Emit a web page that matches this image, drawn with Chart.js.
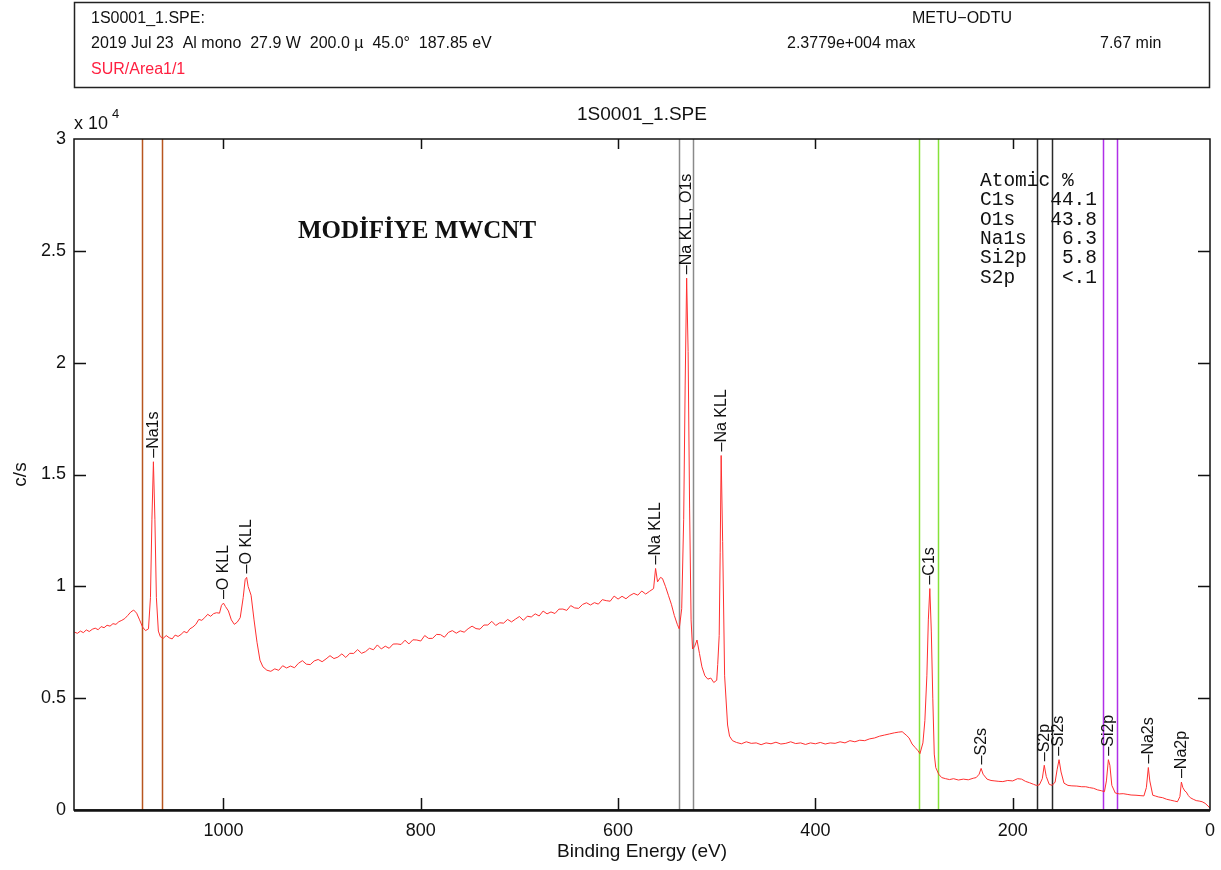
<!DOCTYPE html>
<html>
<head>
<meta charset="utf-8">
<script src="https://cdn.jsdelivr.net/npm/chart.js@4.4.1/dist/chart.umd.min.js"></script>
<style>
  body { margin: 0; background: #fff; }
  canvas { display: block; }
</style>
</head>
<body>
<canvas id="xps" width="1221" height="870"></canvas>
<script>
// survey spectrum: binding energy (eV) and counts (c/s)
const bindingEnergy = [
  1151, 1148, 1145, 1142, 1139, 1136, 1133, 1130, 1127, 1124, 1121, 1118, 1115, 1112, 1109, 1106, 1103, 1100,
  1097, 1094, 1091, 1088, 1085, 1082, 1079, 1076, 1074, 1072.5, 1071, 1069.5, 1068, 1066, 1064, 1061, 1058,
  1055, 1052, 1049, 1046, 1043, 1040, 1037, 1034, 1031, 1028, 1025, 1022, 1019, 1016, 1013, 1010, 1007, 1004,
  1002, 1000, 998, 995, 992, 989, 986, 983, 980, 978, 976.5, 975, 972, 969, 966, 963, 960, 956, 952,
  948, 944, 940, 936, 932, 928, 924, 920, 916, 912, 908, 904, 900, 896, 892, 888, 884, 880, 876, 872, 868,
  864, 860, 856, 852, 848, 844, 840, 836, 832, 828, 824, 820, 816, 812, 808, 804, 800, 796, 792, 788, 784,
  780, 776, 772, 768, 764, 760, 756, 752, 748, 744, 740, 736, 732, 728, 724, 720, 716, 712, 708, 704, 700,
  696, 692, 688, 684, 680, 676, 672, 668, 664, 660, 656, 652, 648, 644, 640, 636, 632, 628, 624, 620, 616,
  612, 608, 604, 600, 596, 592, 588, 584, 580, 576, 572, 568, 564, 562, 560, 557, 555, 552,
  549, 546, 543, 540, 538, 535.5, 533.5, 532, 530.5, 529, 527.5, 526, 524.5, 522.5, 520, 517.5, 515, 512, 509,
  506, 503, 500, 499, 497.5, 496.5, 495.5, 494, 492, 489, 487, 484, 480, 475, 470, 465, 460, 455, 450, 445, 440,
  435, 430, 425, 420, 415, 410, 405, 400, 395, 390, 385, 380, 375, 370, 365, 360, 355, 350, 345, 340, 335, 330,
  325, 320, 316, 312, 308, 305, 302, 299, 296, 294, 291, 289, 287, 285.5, 284, 282.5, 281, 279.5, 278, 275, 272,
  268, 264, 260, 255, 250, 245, 240, 237, 234, 232, 230, 226, 222, 218, 214, 210, 205, 200, 195, 191, 187, 183,
  179, 176, 173, 170, 168, 166, 163, 160, 157, 155, 153, 151, 148, 144, 140, 135, 130, 126, 122, 118, 114,
  110, 107, 105, 103, 101.5, 99.5, 96, 92, 88, 84, 80, 75, 70, 67, 64.5, 62.5, 61, 58, 55, 52, 48, 44, 40, 36,
  33, 30.5, 29, 27.5, 25.5, 24, 22, 20, 17, 14, 11, 8, 5, 2, 0
];
const countsPerSec = [
  7950, 7900, 8000, 7930, 8050, 7980, 8080, 8130, 8060, 8200, 8150, 8260, 8220, 8330, 8300, 8420, 8480, 8560,
  8700, 8850, 8940, 8800, 8500, 8180, 8020, 8100, 9500, 13000, 15570, 13000, 9500, 8000, 7750, 7680, 7800,
  7700, 7650, 7820, 7760, 7850, 7980, 7920, 8100, 8180, 8300, 8520, 8480, 8600, 8750, 8660, 8780, 8820, 8800,
  9150, 9250, 9100, 8900, 8500, 8300, 8400, 8600, 9500, 10300, 10400, 10000, 9600, 8500, 7500, 6700, 6400, 6250, 6200,
  6310, 6245, 6450, 6350, 6435, 6360, 6560, 6675, 6520, 6500, 6665, 6730, 6630, 6755, 6900, 6770, 6835, 6980, 6820, 7005, 7000,
  7170, 7005, 7080, 7230, 7165, 7380, 7200, 7325, 7230, 7420, 7425, 7400, 7590, 7425, 7610, 7600, 7555, 7800, 7670, 7675, 7850,
  7840, 7725, 7940, 8020, 7905, 8010, 7950, 8105, 8220, 8110, 8085, 8270, 8270, 8435, 8250, 8370, 8355, 8520, 8410, 8535, 8650,
  8480, 8665, 8630, 8770, 8675, 8895, 8770, 8855, 8785, 8980, 8985, 8925, 9140, 9035, 9015, 9190, 9265, 9165, 9270, 9205, 9405,
  9360, 9335, 9565, 9430, 9555, 9445, 9590, 9685, 9605, 9790, 9655, 9780, 9900, 10800, 10200, 10400, 10350, 10000,
  9600, 9200, 8700, 8300, 8100, 9000, 13000, 19000, 23779, 20500, 13500, 8500, 7200, 7300, 7600, 7000, 6400, 6000, 5850,
  5900, 5700, 5800, 6500, 7800, 11500, 15850, 12000, 6000, 3800, 3300, 3100, 3020, 2960, 3050, 2980, 3000, 2920, 3000, 2960, 3030,
  2950, 2980, 3050, 2970, 3000, 2930, 3000, 2960, 3020, 2950, 3000, 2980, 3050, 3000, 3100, 3050, 3120, 3100, 3180, 3220, 3300, 3350,
  3400, 3450, 3480, 3500, 3350, 3220, 2950, 2800, 2650, 2520, 3000, 4000, 6000, 8500, 9900, 8000, 5000, 2500, 1900, 1600, 1450,
  1400, 1360, 1400, 1340, 1380, 1350, 1420, 1450, 1600, 1860, 1600, 1380, 1320, 1300, 1280, 1270, 1320, 1300, 1400, 1380, 1280, 1220,
  1150, 1100, 1120, 1400, 2000, 1500, 1150, 1100, 1250, 1800, 2250, 1700, 1200, 1100, 1080, 1070, 1040, 1040, 1000, 970, 900,
  860, 820, 1300, 2250, 2000, 1100, 760, 720, 730, 700, 670, 660, 640, 630, 1000, 1900, 1300, 660, 620, 580, 550, 480, 440, 400,
  370, 600, 1250, 1000, 850, 800, 650, 550, 480, 420, 400, 370, 300, 180, 80
];

// peak annotations
const peakNames = ['Na1s', 'O KLL', 'O KLL', 'Na KLL', 'Na KLL, O1s', 'Na KLL', 'C1s', 'S2s', 'S2p', 'Si2s', 'Si2p', 'Na2s', 'Na2p'];
const peakEnergies = [1071, 1000, 976.5, 562, 530.5, 495.5, 284, 232, 168, 153, 103, 62.5, 29];
const peakCounts = [15570, 9250, 10400, 10800, 23779, 15850, 9900, 1860, 2000, 2250, 2250, 1900, 1250];

// region markers (pairs of vertical lines)
const regionEnergies = [1083, 1062.5, 538.5, 524, 295, 275.5, 175.5, 160, 108.5, 94.5];
const regionColors = ['#b8561f', '#b8561f', '#8a8a8a', '#8a8a8a', '#86e23a', '#86e23a', '#2a2a2a', '#2a2a2a', '#b02fe8', '#b02fe8'];

// quantification table
const atomicRows = ['Atomic %', 'C1s   44.1', 'O1s   43.8', 'Na1s   6.3', 'Si2p   5.8', 'S2p    <.1'];

const xTicks = [1000, 800, 600, 400, 200];
const yTicks = [5000, 10000, 15000, 20000, 25000];

Chart.defaults.font.family = '"Liberation Sans", Arial, sans-serif';
Chart.defaults.color = '#111';

const overlay = {
  id: 'overlay',
  beforeDraw(chart) {
    const c = chart.ctx;
    c.save();
    c.fillStyle = '#fff';
    c.fillRect(0, 0, chart.width, chart.height);

    // header box
    c.strokeStyle = '#222';
    c.lineWidth = 1.5;
    c.strokeRect(74.5, 2.5, 1135, 85);
    c.font = '16px "Liberation Sans", Arial';
    c.textBaseline = 'middle';
    c.fillStyle = '#111';
    c.fillText('1S0001_1.SPE:', 91, 19);
    c.fillText('2019 Jul 23  Al mono  27.9 W  200.0 \u00b5  45.0\u00b0  187.85 eV', 91, 44);
    c.fillText('2.3779e+004 max', 787, 44);
    c.fillText('7.67 min', 1100, 44);
    c.textAlign = 'center';
    c.fillText('METU\u2212ODTU', 962, 19);
    c.textAlign = 'left';
    c.fillStyle = '#ff2040';
    c.fillText('SUR/Area1/1', 91, 70);

    // plot title and exponent
    c.fillStyle = '#111';
    c.textAlign = 'center';
    c.font = '19px "Liberation Sans", Arial';
    c.fillText('1S0001_1.SPE', 642, 115);
    c.textAlign = 'left';
    c.textBaseline = 'alphabetic';
    c.font = '18px "Liberation Sans", Arial';
    c.fillText('x 10', 74, 129);
    c.font = '13px "Liberation Sans", Arial';
    c.fillText('4', 112, 118);
    c.restore();
  },
  beforeDatasetsDraw(chart) {
    const c = chart.ctx, xs = chart.scales.x, a = chart.chartArea;
    c.save();
    c.lineWidth = 1.5;
    regionEnergies.forEach((e, i) => {
      const px = Math.round(xs.getPixelForValue(e)) + 0.5;
      c.strokeStyle = regionColors[i];
      c.beginPath();
      c.moveTo(px, a.top);
      c.lineTo(px, a.bottom);
      c.stroke();
    });
    c.restore();
  },
  afterDatasetsDraw(chart) {
    const c = chart.ctx, xs = chart.scales.x, ys = chart.scales.y, a = chart.chartArea;
    c.save();
    // peak labels, rotated
    c.fillStyle = '#111';
    c.font = '16px "Liberation Sans", Arial';
    c.textBaseline = 'middle';
    c.textAlign = 'left';
    peakNames.forEach((name, i) => {
      const px = xs.getPixelForValue(peakEnergies[i]);
      const py = ys.getPixelForValue(peakCounts[i]) - 4;
      c.save();
      c.translate(px, py);
      c.rotate(-Math.PI / 2);
      c.fillText('\u2013' + name, 0, 0);
      c.restore();
    });

    // sample name
    c.font = 'bold 25px "Liberation Serif", "DejaVu Serif", serif';
    c.textAlign = 'center';
    c.fillText('MOD\u0130F\u0130YE MWCNT', 417, 232);

    // atomic % table
    c.font = '19.5px "Liberation Mono", monospace';
    c.textAlign = 'left';
    atomicRows.forEach((row, i) => c.fillText(row, 980, 181 + i * 19.3));

    // frame
    c.strokeStyle = '#111';
    c.lineWidth = 1.5;
    c.strokeRect(a.left, a.top, a.right - a.left, a.bottom - a.top);
    c.lineWidth = 2.5;
    c.beginPath();
    c.moveTo(a.left, a.bottom + 0.5);
    c.lineTo(a.right, a.bottom + 0.5);
    c.stroke();

    // inward tick marks
    c.lineWidth = 1.5;
    c.beginPath();
    xTicks.forEach(v => {
      const px = Math.round(xs.getPixelForValue(v)) + 0.5;
      c.moveTo(px, a.bottom); c.lineTo(px, a.bottom - 12);
      c.moveTo(px, a.top); c.lineTo(px, a.top + 10);
    });
    yTicks.forEach(v => {
      const py = Math.round(ys.getPixelForValue(v)) + 0.5;
      c.moveTo(a.left, py); c.lineTo(a.left + 12, py);
      c.moveTo(a.right, py); c.lineTo(a.right - 12, py);
    });
    c.stroke();
    c.restore();
  }
};

new Chart(document.getElementById('xps'), {
  type: 'line',
  data: {
    datasets: [{
      label: '1S0001_1.SPE',
      data: bindingEnergy.map((e, i) => ({ x: e, y: countsPerSec[i] })),
      borderColor: '#ff3030',
      borderWidth: 1,
      pointRadius: 0,
      tension: 0,
      fill: false
    }]
  },
  options: {
    responsive: false,
    animation: false,
    layout: { padding: { top: 139, right: 11, left: 0, bottom: 0 } },
    plugins: {
      legend: { display: false },
      tooltip: { enabled: false }
    },
    scales: {
      x: {
        type: 'linear',
        reverse: true,
        min: 0,
        max: 1151.5,
        afterFit: s => { s.height = 60; s.paddingLeft = 0; s.paddingRight = 0; },
        grid: { display: false, drawTicks: false },
        border: { display: false },
        ticks: { stepSize: 200, includeBounds: false, padding: 10, font: { size: 18 }, maxRotation: 0, callback: v => String(v) },
        title: { display: true, text: 'Binding Energy (eV)', font: { size: 19 }, padding: { bottom: 7 } }
      },
      y: {
        min: 0,
        max: 30000,
        afterFit: s => { s.width = 74; s.paddingTop = 0; s.paddingBottom = 0; },
        grid: { display: false, drawTicks: false },
        border: { display: false },
        ticks: { stepSize: 5000, padding: 8, font: { size: 18 }, callback: v => String(v / 10000) },
        title: { display: true, text: 'c/s', font: { size: 19 }, padding: { top: 9 } }
      }
    }
  },
  plugins: [overlay]
});
</script>
</body>
</html>
